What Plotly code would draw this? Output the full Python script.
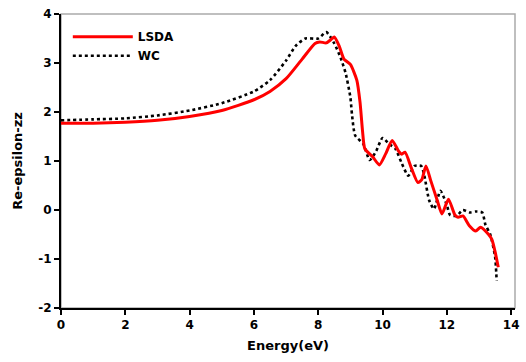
import plotly.graph_objects as go

# Real part of the dielectric function (zz component) vs photon energy
lsda_energy = [0.0, 1.0, 2.0, 3.0, 4.0, 5.0, 6.0, 6.5, 7.0, 7.5, 7.9, 8.05, 8.25, 8.4, 8.5, 8.65,
               8.8, 9.0, 9.2, 9.3, 9.38, 9.45, 9.7, 9.9, 10.1, 10.3, 10.5, 10.6, 10.7, 10.9,
               11.1, 11.22, 11.35, 11.5, 11.7, 11.85, 12.05, 12.25, 12.35, 12.5, 12.7, 12.9,
               13.05, 13.3, 13.4, 13.5, 13.6]
lsda_eps = [1.77, 1.77, 1.79, 1.83, 1.91, 2.03, 2.25, 2.42, 2.68, 3.08, 3.4, 3.43, 3.41, 3.48,
            3.53, 3.35, 3.08, 2.97, 2.65, 2.2, 1.6, 1.25, 1.08, 0.92, 1.15, 1.42, 1.2, 1.14,
            1.18, 0.85, 0.56, 0.62, 0.9, 0.6, 0.2, -0.08, 0.22, -0.1, -0.15, -0.12, -0.32,
            -0.43, -0.35, -0.5, -0.6, -0.85, -1.17]

wc_energy = [0.0, 1.0, 2.0, 3.0, 4.0, 5.0, 6.0, 6.5, 7.0, 7.3, 7.6, 8.0, 8.25, 8.5, 8.7, 8.85,
             9.0, 9.05, 9.15, 9.4, 9.6, 9.8, 10.0, 10.2, 10.4, 10.6, 10.8, 11.0, 11.2, 11.3,
             11.45, 11.6, 11.8, 12.0, 12.1, 12.3, 12.5, 12.7, 12.9, 13.1, 13.2, 13.35, 13.5,
             13.55]
wc_eps = [1.83, 1.85, 1.87, 1.93, 2.03, 2.18, 2.42, 2.65, 3.05, 3.35, 3.5, 3.5, 3.63, 3.4, 3.1,
          2.8, 2.3, 1.95, 1.52, 1.35, 1.02, 1.2, 1.47, 1.35, 1.25, 0.95, 0.7, 0.9, 0.9, 0.7,
          0.2, 0.02, 0.39, 0.1, -0.1, -0.12, 0.0, -0.05, -0.03, -0.05, -0.3, -0.5, -0.95,
          -1.45]

x_ticks = [0, 2, 4, 6, 8, 10, 12, 14]
y_ticks = [-2, -1, 0, 1, 2, 3, 4]
y_tick_labels = ["-2", "-1", "0", "1", "2", "3", "4"]

FONT = "DejaVu Sans"

fig = go.Figure()
fig.add_trace(go.Scatter(
    x=wc_energy, y=wc_eps, mode="lines", name="<b>WC</b>",
    line=dict(color="black", width=2.6, dash="dot", shape="spline", smoothing=0.6),
))
fig.add_trace(go.Scatter(
    x=lsda_energy, y=lsda_eps, mode="lines", name="<b>LSDA</b>",
    line=dict(color="#ff0000", width=3, shape="spline", smoothing=0.6),
))

axis_common = dict(
    showline=True, linecolor="black", linewidth=2,
    ticks="outside", ticklen=5, tickwidth=2, tickcolor="black",
    showgrid=False, zeroline=False,
    tickfont=dict(family=FONT, size=12, color="black", weight="bold"),
)

fig.update_layout(
    width=526, height=362,
    margin=dict(l=61, r=7, t=12, b=54),
    paper_bgcolor="white", plot_bgcolor="white",
    font=dict(family=FONT, color="black"),
    xaxis=dict(range=[0, 14.12], tickvals=x_ticks,
               title=dict(text="<b>Energy(eV)</b>", font=dict(size=13), standoff=9),
               **axis_common),
    yaxis=dict(range=[-2, 4], tickvals=y_ticks, ticktext=y_tick_labels,
               title=dict(text="<b>Re-epsilon-zz</b>", font=dict(size=13), standoff=13),
               **axis_common),
    legend=dict(x=0.015, y=0.972, xanchor="left", yanchor="top",
                traceorder="reversed", bgcolor="rgba(0,0,0,0)",
                font=dict(family=FONT, size=12, color="black"),
                itemwidth=60, tracegroupgap=0),
    showlegend=True,
    shapes=[dict(type="rect", xref="paper", yref="paper", x0=0, x1=1, y0=0, y1=1,
                 line=dict(color="#aaaaaa", width=1.5), layer="below")],
)

fig.write_html("out.html")
